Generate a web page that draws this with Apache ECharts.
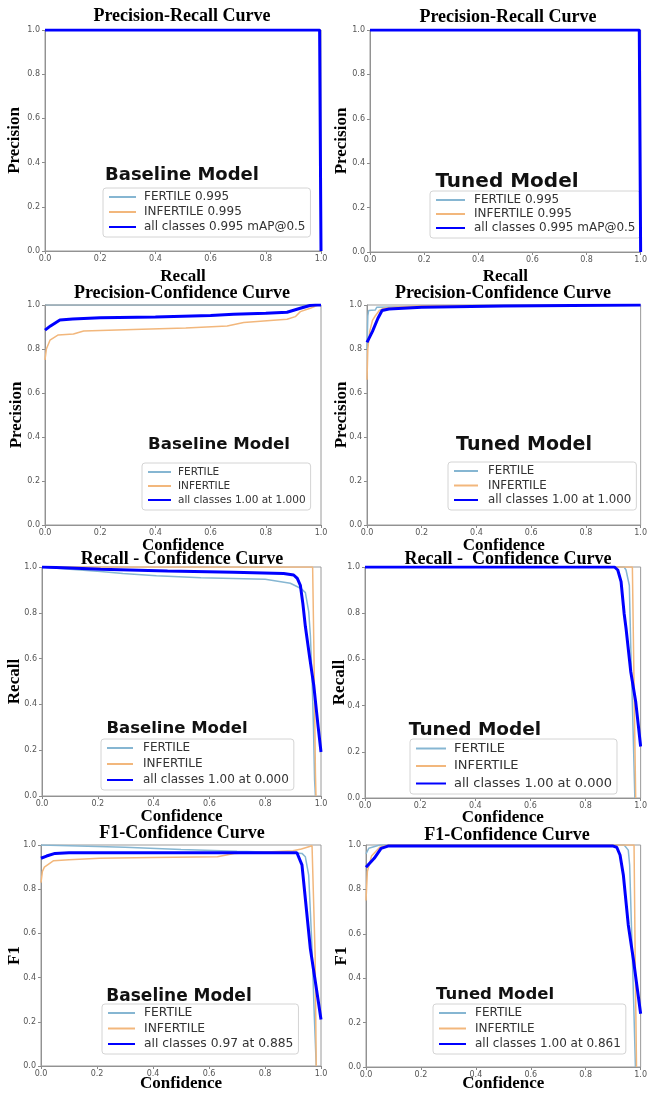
<!DOCTYPE html>
<html><head><meta charset="utf-8">
<script src="https://cdn.jsdelivr.net/npm/echarts@6/dist/echarts.min.js"></script>
<style>html,body{margin:0;padding:0;background:#fff}#c{width:650px;height:1095px}</style>
</head><body><div id="c"></div>
<script>
// ---------- DATA ----------
const ticks = [0, 0.2, 0.4, 0.6, 0.8, 1.0];
const prLabels = ['FERTILE 0.995', 'INFERTILE 0.995', 'all classes 0.995 mAP@0.5'];
const pcLabels = ['FERTILE', 'INFERTILE', 'all classes 1.00 at 1.000'];
const rcLabels = ['FERTILE', 'INFERTILE', 'all classes 1.00 at 0.000'];
const f1BaseLabels = ['FERTILE', 'INFERTILE', 'all classes 0.97 at 0.885'];
const f1TunedLabels = ['FERTILE', 'INFERTILE', 'all classes 1.00 at 0.861'];

// Precision-Recall (baseline & tuned)
const b_pr_fertile = [[0,1],[0.5,1],[0.995,1],[1,1],[1,0]];
const b_pr_infertile = [[0,1],[0.5,1],[0.995,1],[1,1],[1,0]];
const b_pr_all = [[0,1],[0.5,1],[0.995,1],[1,1],[1,0]];
const t_pr_fertile = [[0,1],[0.5,1],[0.995,1],[1,1],[1,0]];
const t_pr_infertile = [[0,1],[0.5,1],[0.995,1],[1,1],[1,0]];
const t_pr_all = [[0,1],[0.5,1],[0.995,1],[1,1],[1,0]];

// Precision-Confidence
const b_pc_fertile = [[0,1],[0.5,1],[1,1]];
const b_pc_infertile = [[0,0.75],[0.005,0.8],[0.018,0.84],[0.048,0.864],[0.103,0.868],[0.14,0.882],[0.32,0.889],[0.51,0.895],[0.66,0.905],[0.72,0.92],[0.816,0.929],[0.877,0.935],[0.907,0.947],[0.925,0.97],[0.961,0.985],[0.99,1],[1,1]];
const b_pc_all = [[0,0.886],[0.02,0.905],[0.054,0.932],[0.1,0.936],[0.2,0.942],[0.4,0.946],[0.6,0.952],[0.683,0.958],[0.8,0.963],[0.877,0.967],[0.925,0.985],[0.96,0.998],[0.98,1],[1,1]];
const t_pc_fertile = [[0,0.8],[0.003,0.95],[0.006,0.975],[0.03,0.977],[0.036,0.99],[0.3,0.996],[0.5,1],[1,1]];
const t_pc_infertile = [[0,0.66],[0.003,0.8],[0.01,0.88],[0.02,0.93],[0.03,0.95],[0.045,0.975],[0.06,0.985],[0.1,0.99],[0.2,0.997],[1,1]];
const t_pc_all = [[0,0.83],[0.02,0.88],[0.04,0.94],[0.055,0.975],[0.08,0.982],[0.2,0.99],[0.5,0.995],[1,1]];

// Recall-Confidence
const b_rc_fertile = [[0,1],[0.1,0.99],[0.21,0.98],[0.29,0.972],[0.41,0.962],[0.57,0.953],[0.8,0.946],[0.89,0.929],[0.93,0.905],[0.944,0.888],[0.956,0.805],[0.962,0.7],[0.968,0.51],[0.973,0.3],[0.977,0.07],[0.98,0]];
const b_rc_infertile = [[0,1],[0.97,1],[0.975,0.6],[0.98,0.1],[0.982,0]];
const b_rc_all = [[0,1],[0.1,0.996],[0.21,0.99],[0.45,0.983],[0.687,0.977],[0.866,0.972],[0.902,0.965],[0.915,0.95],[0.926,0.92],[0.935,0.84],[0.944,0.74],[0.96,0.6],[0.974,0.484],[0.99,0.3],[1,0.192]];
const t_rc_fertile = [[0,1],[0.94,1],[0.947,0.987],[0.953,0.98],[0.959,0.92],[0.964,0.66],[0.969,0.45],[0.974,0.23],[0.979,0]];
const t_rc_infertile = [[0,1],[0.97,1],[0.976,0.5],[0.982,0]];
const t_rc_all = [[0,1],[0.905,1],[0.917,0.987],[0.929,0.937],[0.94,0.8],[0.947,0.735],[0.964,0.548],[0.982,0.418],[1,0.223]];

// F1-Confidence
const b_f1_fertile = [[0,1],[0.1,0.997],[0.3,0.99],[0.5,0.98],[0.7,0.972],[0.9,0.965],[0.932,0.962],[0.944,0.947],[0.956,0.864],[0.962,0.7],[0.968,0.53],[0.976,0.23],[0.983,0]];
const b_f1_infertile = [[0,0.83],[0.005,0.88],[0.012,0.9],[0.045,0.929],[0.1,0.933],[0.21,0.94],[0.4,0.944],[0.63,0.947],[0.69,0.962],[0.9,0.974],[0.93,0.982],[0.968,0.997],[0.974,1],[0.979,0.5],[0.983,0]];
const b_f1_all = [[0,0.94],[0.02,0.95],[0.05,0.962],[0.1,0.965],[0.5,0.965],[0.914,0.965],[0.932,0.91],[0.944,0.758],[0.962,0.53],[0.98,0.38],[1,0.21]];
const t_f1_fertile = [[0,0.96],[0.01,0.985],[0.05,1],[0.94,1],[0.955,0.977],[0.96,0.91],[0.969,0.53],[0.976,0.23],[0.981,0]];
const t_f1_infertile = [[0,0.75],[0.005,0.88],[0.02,0.95],[0.05,0.99],[0.08,1],[0.976,1],[0.98,0.5],[0.985,0]];
const t_f1_all = [[0,0.9],[0.03,0.94],[0.055,0.985],[0.08,0.995],[0.9,0.995],[0.913,0.99],[0.925,0.955],[0.937,0.865],[0.955,0.64],[0.973,0.49],[1,0.24]];

// ---------- LAYOUT ----------
const panels = [
  {grid:[45,30,276,221], title:'Precision-Recall Curve', tp:[182,16], xName:'Recall', xGap:17.5, yName:'Precision', yGap:21.5,
   model:'Baseline Model', mp:[182,175], ms:18, leg:{left:103,top:188,fs:12,iw:27,tpad:3,gap:3}, labels:prLabels, data:[b_pr_fertile,b_pr_infertile,b_pr_all]},
  {grid:[370,30,277,222], title:'Precision-Recall Curve', tp:[508,17], xName:'Recall', xGap:16.5, yName:'Precision', yGap:19.5,
   model:'Tuned Model', mp:[507,182], ms:20, leg:{left:430,top:191,fs:12,iw:29,tpad:4,gap:2}, labels:prLabels, data:[t_pr_fertile,t_pr_infertile,t_pr_all]},
  {grid:[45,305,276,220], title:'Precision-Confidence Curve', tp:[182,293], xName:'Confidence', xGap:12.5, yName:'Precision', yGap:19.5,
   model:'Baseline Model', mp:[219,445], ms:16.6, leg:{left:142,top:463,fs:10.5,iw:23,tpad:2,gap:2}, labels:pcLabels, data:[b_pc_fertile,b_pc_infertile,b_pc_all], under:[0]},
  {grid:[367,305,276,220], title:'Precision-Confidence Curve', tp:[503,293], xName:'Confidence', xGap:12.5, yName:'Precision', yGap:16.5,
   model:'Tuned Model', mp:[524,445], ms:19, leg:{left:448,top:462,fs:11.8,iw:24,tpad:5,gap:2.5}, labels:pcLabels, data:[t_pc_fertile,t_pc_infertile,t_pc_all]},
  {grid:[42,567,279,229], title:'Recall - Confidence Curve', tp:[182,559], xName:'Confidence', xGap:12.5, yName:'Recall', yGap:18.5,
   model:'Baseline Model', mp:[177,729], ms:16.5, leg:{left:101,top:739,fs:12,iw:26,tpad:5,gap:4}, labels:rcLabels, data:[b_rc_fertile,b_rc_infertile,b_rc_all]},
  {grid:[365,567,282,231], title:'Recall -  Confidence Curve', tp:[508,559], xName:'Confidence', xGap:11.5, yName:'Recall', yGap:16.5,
   model:'Tuned Model', mp:[475,730], ms:18.5, leg:{left:410,top:739,fs:13,iw:30,tpad:3,gap:4.5}, labels:rcLabels, data:[t_rc_fertile,t_rc_infertile,t_rc_all]},
  {grid:[41,845,280,221], title:'F1-Confidence Curve', tp:[182,833], xName:'Confidence', xGap:9, yName:'F1', yGap:17.5,
   model:'Baseline Model', mp:[179,997], ms:17, leg:{left:102,top:1004,fs:12.3,iw:27,tpad:4,gap:3.5}, labels:f1BaseLabels, data:[b_f1_fertile,b_f1_infertile,b_f1_all]},
  {grid:[366,845,280,222], title:'F1-Confidence Curve', tp:[507,835], xName:'Confidence', xGap:8, yName:'F1', yGap:15.5,
   model:'Tuned Model', mp:[495,995], ms:16.5, leg:{left:433,top:1004,fs:12,iw:27,tpad:4,gap:3.5}, labels:f1TunedLabels, data:[t_f1_fertile,t_f1_infertile,t_f1_all]}
];

const colors = ['#86b6d2', '#f2b77c', '#0000ff'];
const widths = [1.5, 1.5, 3];
const serifBold = {fontFamily:'Liberation Serif', fontWeight:'bold', color:'#000'};

const option = {backgroundColor:'#fff', animation:false, title:[], grid:[], xAxis:[], yAxis:[], legend:[], series:[]};

panels.forEach((p, i) => {
  option.grid.push({left:p.grid[0], top:p.grid[1], width:p.grid[2], height:p.grid[3], show:true, z:1,
    borderColor:'#9a9a9a', borderWidth:1, backgroundColor:'transparent', containLabel:false});
  const axisCommon = {type:'value', gridIndex:i, min:0, max:1, interval:0.2,
    axisLine:{show:true, lineStyle:{color:'#8a8a8a', width:1}},
    axisTick:{show:true, length:3, lineStyle:{color:'#8a8a8a'}},
    splitLine:{show:false},
    axisLabel:{fontFamily:'DejaVu Sans', fontSize:8, color:'#555', formatter:v => v.toFixed(1)},
    nameLocation:'middle', nameMoveOverlap:false,
    nameTextStyle:Object.assign({fontSize:17, lineHeight:17}, serifBold)};
  option.xAxis.push(Object.assign({}, axisCommon, {name:p.xName, nameGap:p.xGap,
    axisLabel:Object.assign({}, axisCommon.axisLabel, {margin:4})}));
  option.yAxis.push(Object.assign({}, axisCommon, {name:p.yName, nameGap:p.yGap, nameRotate:90,
    axisLabel:Object.assign({}, axisCommon.axisLabel, {margin:5})}));
  option.title.push({text:p.title, left:p.tp[0], top:p.tp[1]-9, textAlign:'center', padding:0,
    textStyle:Object.assign({fontSize:18, lineHeight:18}, serifBold)});
  option.title.push({text:p.model, left:p.mp[0], top:p.mp[1]-p.ms/2, textAlign:'center', padding:0,
    textStyle:{fontFamily:'DejaVu Sans', fontWeight:'bold', fontSize:p.ms, lineHeight:p.ms, color:'#111'}});
  option.legend.push({data:p.labels, left:p.leg.left, top:p.leg.top, orient:'vertical', selectedMode:false,
    itemWidth:p.leg.iw, itemHeight:12, itemGap:p.leg.gap, padding:[3,5,4,5],
    itemStyle:{opacity:0, color:'rgba(0,0,0,0)', borderWidth:0},
    backgroundColor:'rgba(255,255,255,0.85)', borderColor:'#d4d4d4', borderWidth:1, borderRadius:3,
    textStyle:{fontFamily:'DejaVu Sans', fontSize:p.leg.fs, lineHeight:12, color:'#333', padding:[0,0,0,p.leg.tpad]}});
  p.data.forEach((d, k) => {
    const under = p.under && p.under.indexOf(k) >= 0;
    option.series.push({type:'line', name:p.labels[k], xAxisIndex:i, yAxisIndex:i, data:d,
      symbol:'none', smooth:false, z:under ? 0 : 2+k, lineStyle:{color:colors[k], width:widths[k]},
      itemStyle:{color:colors[k]}, emphasis:{disabled:true}});
  });
});

const chart = echarts.init(document.getElementById('c'), null, {renderer:'canvas'});
chart.setOption(option);
</script></body></html>
